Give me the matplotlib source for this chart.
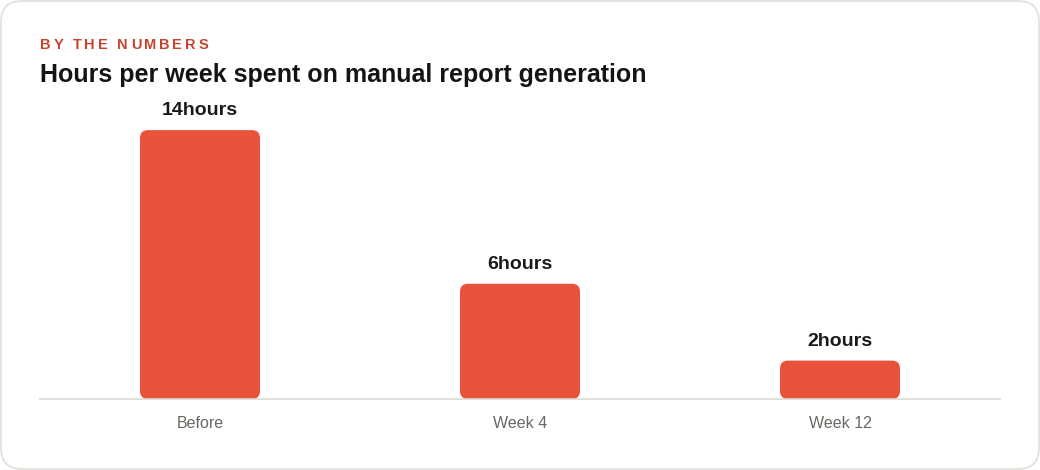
import matplotlib
matplotlib.use("Agg")
from matplotlib import pyplot as plt
from matplotlib.patches import FancyBboxPatch
import numpy as np

plt.rcParams["font.family"] = ["Liberation Sans", "DejaVu Sans"]

# data
categories = ["Before", "Week 4", "Week 12"]
hours = [14, 6, 2]
unit = "hours"

kicker = "BY THE NUMBERS"
title = "Hours per week spent on manual report generation"

bar_color = "#E8513A"
W, H = 1040, 470

fig = plt.figure(figsize=(W / 100, H / 100), dpi=100)
fig.patch.set_facecolor("white")

# card outline (behind the axes)
card = FancyBboxPatch((1 / W, 1 / H), 1 - 2 / W, 1 - 2 / H,
                      boxstyle="round,pad=0,rounding_size=0.02",
                      transform=fig.transFigure, facecolor="white",
                      edgecolor="#e2dfda", linewidth=1.2, mutation_aspect=W / H,
                      zorder=-5)
fig.add_artist(card)

ax = fig.add_axes([40 / W, 71 / H, 960 / W, 299 / H])
ax.set_zorder(2)
ax.set_xlim(-0.5, len(categories) - 0.5)
ax.set_ylim(0, 15.57)
ax.set_facecolor("none")
for s in ["top", "right", "left"]:
    ax.spines[s].set_visible(False)
ax.spines["bottom"].set_color("#dcd9d4")
ax.spines["bottom"].set_linewidth(1.2)
ax.set_yticks([])
x = np.arange(len(categories))
ax.set_xticks(x)
ax.set_xticklabels(categories, fontsize=11.5, color="#6b6762")
ax.tick_params(axis="x", length=0, pad=12)

bars = ax.bar(x, hours, width=0.375, color=bar_color)

# swap plain bars for rounded ones
px_x = 960 / 3.0
px_y = 299 / 15.57
r = 8 / px_x
for b in bars:
    b.set_visible(False)
    rb = FancyBboxPatch((b.get_x(), 0), b.get_width(), b.get_height(),
                        boxstyle=f"round,pad=0,rounding_size={r}",
                        mutation_aspect=px_x / px_y,
                        facecolor=bar_color, edgecolor="none", zorder=2)
    ax.add_patch(rb)

for xi, v in zip(x, hours):
    ax.annotate(f"{v}{unit}", (xi, v), xytext=(0, 14), textcoords="offset points",
                ha="center", va="center", fontsize=14, fontweight="bold",
                color="#1a1a1a")

fig.text(40 / W, 1 - 75 / H, title, fontsize=18, fontweight="bold",
         color="#141414", va="center", ha="left")

# kicker with letter spacing
renderer = fig.canvas.get_renderer()
target_w = 168
widths = []
chars = []
for ch in kicker:
    t = fig.text(0, 0, ch, fontsize=10.5, fontweight="bold", color="#C4442D",
                 va="center", ha="left")
    chars.append(t)
    widths.append(t.get_window_extent(renderer).width)
spacing = (target_w - sum(widths)) / (len(kicker) - 1)
cx = 40
for t, w in zip(chars, widths):
    t.set_position((cx / W, 1 - 45 / H))
    cx += w + spacing

fig.savefig("out.png", dpi=100)
